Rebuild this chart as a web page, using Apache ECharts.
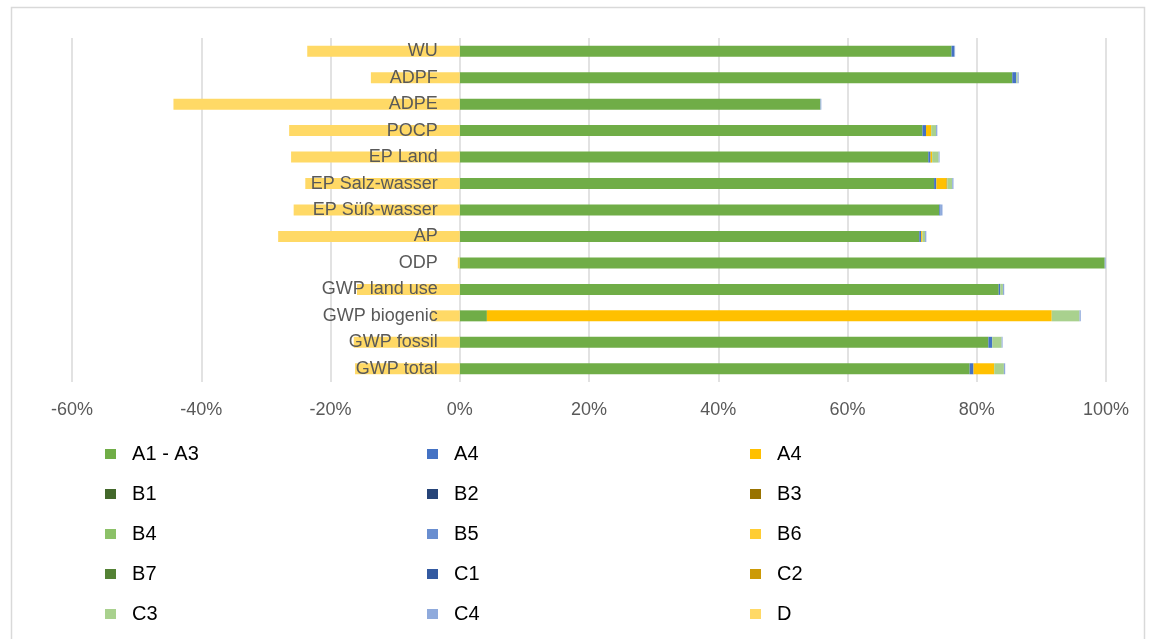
<!DOCTYPE html>
<html>
<head>
<meta charset="utf-8">
<script src="https://cdn.jsdelivr.net/npm/echarts@6/dist/echarts.min.js"></script>
<style>html,body{margin:0;padding:0;background:#fff;}#c{width:1152px;height:639px;}</style>
</head>
<body>
<div id="c"></div>
<script>
// Categories, bottom to top (category axis starts at bottom)
const categories = ['GWP total', 'GWP fossil', 'GWP biogenic', 'GWP land use', 'ODP', 'AP',
  'EP Süß-wasser', 'EP Salz-wasser', 'EP Land', 'POCP', 'ADPE', 'ADPF', 'WU'];

const xTicks = [-60, -40, -20, 0, 20, 40, 60, 80, 100];

const A1_A3   = [78.9, 81.8, 4.2, 83.4, 99.8, 71.1, 74.2, 73.4, 72.5, 71.6, 55.8, 85.5, 76.1];
const A4_blue = [0.6, 0.6, 0, 0.25, 0, 0.3, 0.2, 0.35, 0.35, 0.55, 0, 0.6, 0.4];
const A4_gold = [3.2, 0, 87.4, 0, 0, 0.2, 0, 1.55, 0.25, 0.8, 0, 0, 0];
const B1 = [0, 0, 0, 0, 0, 0, 0, 0, 0, 0, 0, 0, 0];
const B2 = [0, 0, 0, 0, 0, 0, 0, 0, 0, 0, 0, 0, 0];
const B3 = [0, 0, 0, 0, 0, 0, 0, 0, 0, 0, 0, 0, 0];
const B4 = [0, 0, 0, 0, 0, 0, 0, 0, 0, 0, 0, 0, 0];
const B5 = [0, 0, 0, 0, 0, 0, 0, 0, 0, 0, 0, 0, 0];
const B6 = [0, 0, 0, 0, 0, 0, 0, 0, 0, 0, 0, 0, 0];
const B7 = [0, 0, 0, 0, 0, 0, 0, 0, 0, 0, 0, 0, 0];
const C1 = [0, 0, 0, 0, 0, 0, 0, 0, 0, 0, 0, 0, 0];
const C2 = [0, 0, 0, 0, 0, 0, 0, 0.15, 0, 0, 0, 0, 0];
const C3 = [1.5, 1.45, 4.3, 0.4, 0, 0.4, 0, 0.75, 1.0, 0.75, 0, 0.2, 0];
const C4 = [0.2, 0.15, 0.2, 0.2, 0.15, 0.2, 0.3, 0.2, 0.15, 0.2, 0.15, 0.2, 0.15];
const D  = [-16.2, -16.4, -4.4, -15.9, -0.3, -28.1, -25.7, -23.9, -26.1, -26.4, -44.3, -13.75, -23.6];

const seriesNames = ['A1 - A3', 'A4', 'A4 ', 'B1', 'B2', 'B3', 'B4', 'B5', 'B6', 'B7', 'C1', 'C2', 'C3', 'C4', 'D'];
const seriesData = [A1_A3, A4_blue, A4_gold, B1, B2, B3, B4, B5, B6, B7, C1, C2, C3, C4, D];
const seriesColors = ['#70AD47', '#4472C4', '#FFC000', '#43682B', '#264478', '#997300', '#8CC168',
  '#698ED0', '#FFCD33', '#548235', '#335AA1', '#CC9A06', '#A9D18E', '#8FAADC', '#FFD966'];

const legendCols = [
  ['A1 - A3', 'B1', 'B4', 'B7', 'C3'],
  ['A4', 'B2', 'B5', 'C1', 'C4'],
  ['A4 ', 'B3', 'B6', 'C2', 'D']
];
const legendLeft = [105, 427, 750];

const font = 'Liberation Sans, Arial, sans-serif';

const gridLeft = 72, gridRight = 46;
const chartWidth = 1152;
const xMin = -60, xMax = 100;
// place the category axis at the value 0 of the x axis (through the axis scale span)
const zeroOffset = (0 - xMin) / (xMax - xMin) * (chartWidth - gridLeft - gridRight);

const chart = echarts.init(document.getElementById('c'), null, {renderer: 'canvas'});
chart.setOption({
  animation: false,
  backgroundColor: '#ffffff',
  graphic: [{
    type: 'rect', silent: true, z: -10,
    shape: {x: 11.5, y: 7.5, width: 1133, height: 700},
    style: {fill: 'none', stroke: '#d9d9d9', lineWidth: 1.5}
  }],
  grid: {left: gridLeft, right: gridRight, top: 38, bottom: 257, containLabel: false, outerBoundsMode: 'none'},
  xAxis: {
    type: 'value', min: xMin, max: xMax, interval: 20,
    axisLine: {show: false}, axisTick: {show: false},
    splitLine: {show: true, lineStyle: {color: '#d9d9d9', width: 1.5}},
    axisLabel: {
      margin: 19, fontSize: 18, color: '#595959', fontFamily: font,
      formatter: v => (xTicks.indexOf(v) >= 0 ? v + '%' : '')
    }
  },
  yAxis: {
    type: 'category', data: categories, z: 5, position: 'left', offset: -zeroOffset,
    axisLine: {show: false, onZero: false}, axisTick: {show: false},
    splitLine: {show: false},
    axisLabel: {margin: 22, fontSize: 18, color: '#595959', fontFamily: font}
  },
  legend: legendCols.map((col, i) => ({
    data: col, orient: 'vertical', left: legendLeft[i], top: 444, padding: 0,
    itemGap: 20, itemWidth: 11, itemHeight: 10, icon: 'rect', selectedMode: false,
    formatter: n => '  ' + n,
    textStyle: {fontSize: 20, color: '#000', fontFamily: font, lineHeight: 20}
  })),
  series: seriesNames.map((name, i) => ({
    name: name, type: 'bar', stack: 'total', barWidth: 11,
    itemStyle: {color: seriesColors[i]},
    data: seriesData[i]
  }))
});
</script>
</body>
</html>
